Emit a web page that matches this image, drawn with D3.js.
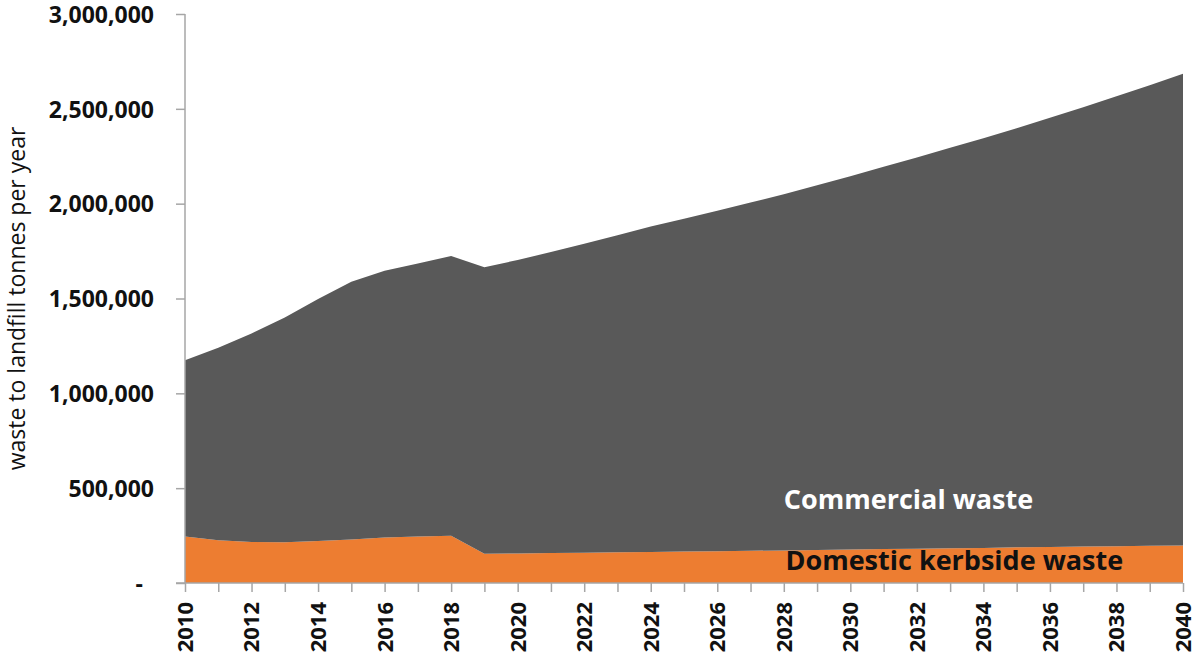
<!DOCTYPE html>
<html>
<head>
<meta charset="utf-8">
<script src="https://cdn.jsdelivr.net/npm/d3@7"></script>
<style>
  body { margin: 0; background: #fff; }
  svg { display: block; }
</style>
</head>
<body>
<svg id="chart" width="1196" height="660"></svg>
<script>
// Years on the x axis
const years = d3.range(2010, 2041);

// Domestic kerbside waste (tonnes/yr)
const domestic = [
  245000, 226000, 216000, 215000, 222000, 229000, 240000, 245000, 249000, 154000,
  156000, 158000, 160000, 162000, 164000, 166000, 168000, 170000, 172000, 174000,
  176000, 179000, 181000, 183000, 185000, 188000, 190000, 192000, 194000, 196000,
  198000
];

// Commercial waste (tonnes/yr), stacked on top of domestic
const commercial = [
  930000, 1014000, 1100000, 1185000, 1275000, 1359000, 1406000, 1440000, 1475000, 1511000,
  1547000, 1587000, 1629000, 1672000, 1715000, 1755000, 1795000, 1836000, 1878000, 1923000,
  1969000, 2015000, 2063000, 2112000, 2160000, 2210000, 2263000, 2317000, 2372000, 2429000,
  2487000
];

const yTicks = [0, 500000, 1000000, 1500000, 2000000, 2500000, 3000000];
const xLabelYears = d3.range(2010, 2041, 2);

const seriesKeys = ["domestic", "commercial"];
const seriesColors = {domestic: "#ED7D31", commercial: "#595959"};
const seriesLabels = [
  {key: "commercial", text: "Commercial waste", year: 2028.0, value: 388000, color: "#fff"},
  {key: "domestic", text: "Domestic kerbside waste", year: 2028.05, value: 66000, color: "#111"}
];

const svg = d3.select("#chart");
const margin = {left: 185, right: 13, top: 14, bottom: 77};
const width = 1196 - margin.left - margin.right;
const height = 660 - margin.top - margin.bottom;

const x = d3.scaleLinear().domain([2010, 2040]).range([0, width]);
const y = d3.scaleLinear().domain([0, 3000000]).range([height, 0]);

const g = svg.append("g").attr("transform", `translate(${margin.left},${margin.top})`);

// Build the table for the stack
const table = years.map((yr, i) => ({year: yr, domestic: domestic[i], commercial: commercial[i]}));
const stacked = d3.stack().keys(seriesKeys)(table);

const area = d3.area()
  .x(d => x(d.data.year))
  .y0(d => y(d[0]))
  .y1(d => y(d[1]));

g.selectAll("path.layer")
  .data(stacked)
  .join("path")
  .attr("class", "layer")
  .attr("d", area)
  .style("fill", d => seriesColors[d.key]);

// Y axis
const yAxis = g.append("g")
  .call(d3.axisLeft(y)
    .tickValues(yTicks)
    .tickSize(9)
    .tickPadding(22)
    .tickFormat(d => d === 0 ? "-" : d3.format(",")(d)));

yAxis.select(".domain").remove();
yAxis.append("line")
  .attr("x1", 0).attr("x2", 0)
  .attr("y1", 0).attr("y2", height)
  .style("stroke", "#a6a6a6")
  .style("stroke-width", 1.5);
yAxis.selectAll(".tick line").style("stroke", "#a6a6a6").style("stroke-width", 1.5);
yAxis.selectAll(".tick text")
  .style("font-family", "'Open Sans', sans-serif")
  .style("font-weight", "bold")
  .style("font-size", "23px")
  .style("fill", "#111")
  .attr("dy", "0.36em");
yAxis.selectAll(".tick text").filter(d => d === 0).attr("x", -42);

// X axis: a tick every year, labels every other year
const xAxis = g.append("g")
  .attr("transform", `translate(0,${height})`)
  .call(d3.axisBottom(x)
    .tickValues(years)
    .tickSize(9)
    .tickFormat(""));

xAxis.select(".domain").remove();
xAxis.append("line")
  .attr("x1", -9).attr("x2", width)
  .attr("y1", 0).attr("y2", 0)
  .style("stroke", "#a6a6a6")
  .style("stroke-width", 1.5);
xAxis.selectAll(".tick line").style("stroke", "#a6a6a6").style("stroke-width", 1.5);

xAxis.selectAll("text.year")
  .data(xLabelYears)
  .join("text")
  .attr("class", "year")
  .attr("transform", d => `translate(${x(d)},19) rotate(-90)`)
  .attr("dy", "0.36em")
  .attr("text-anchor", "end")
  .style("font-family", "'Open Sans', sans-serif")
  .style("font-weight", "bold")
  .style("font-size", "22px")
  .style("fill", "#111")
  .text(d => d);

// Y axis title
svg.append("text")
  .attr("transform", `translate(25,${margin.top + y(1500000)}) rotate(-90)`)
  .attr("text-anchor", "middle")
  .style("font-family", "'Open Sans', sans-serif")
  .style("font-size", "23px")
  .style("fill", "#111")
  .text("waste to landfill tonnes per year");

// In-area series labels
g.selectAll("text.series")
  .data(seriesLabels)
  .join("text")
  .attr("class", "series")
  .attr("x", d => x(d.year))
  .attr("y", d => y(d.value))
  .style("font-family", "'Open Sans', sans-serif")
  .style("font-weight", "bold")
  .style("font-size", "27px")
  .style("fill", d => d.color)
  .text(d => d.text);
</script>
</body>
</html>
